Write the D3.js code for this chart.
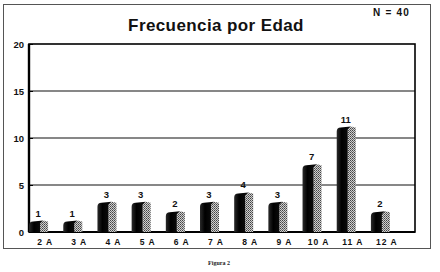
<!DOCTYPE html>
<html>
<head>
<meta charset="utf-8">
<script src="https://cdn.jsdelivr.net/npm/d3@7"></script>
<style>
  body { margin: 0; background: #fff; }
  svg { display: block; }
</style>
</head>
<body>
<svg id="plotSvg" width="440" height="272"></svg>
<script>
// data
var categories = ["2 A", "3 A", "4 A", "5 A", "6 A", "7 A", "8 A", "9 A", "10 A", "11 A", "12 A"];
var frecuencia = [1, 1, 3, 3, 2, 3, 4, 3, 7, 11, 2];
var yTicks = [0, 5, 10, 15, 20];
var titulo = "Frecuencia por Edad";
var nTotal = "N = 40";
var pie = "Figura 2";

var svg = d3.select("#plotSvg");
var font = "'Liberation Sans', Arial, sans-serif";

var plot = { left: 29, right: 415, top: 44, bottom: 232 };

// outer frame
svg.append("rect")
    .attr("x", 3.5).attr("y", 4.5)
    .attr("width", 427).attr("height", 244)
    .attr("fill", "none").attr("stroke", "#555").attr("stroke-width", 1);

var x = d3.scaleBand()
    .domain(categories)
    .range([28, 404]);

var y = d3.scaleLinear()
    .domain([0, 20])
    .range([plot.bottom, plot.top]);

// patterns for the shaded side of the bars
var defs = svg.append("defs");
var pat = defs.append("pattern")
    .attr("id", "dots")
    .attr("width", 2).attr("height", 2)
    .attr("patternUnits", "userSpaceOnUse");
pat.append("rect").attr("width", 2).attr("height", 2).attr("fill", "#cfcfcf");
pat.append("rect").attr("width", 1).attr("height", 1).attr("fill", "#444");
pat.append("rect").attr("x", 1).attr("y", 1).attr("width", 1).attr("height", 1).attr("fill", "#6a6a6a");

var grad = defs.append("linearGradient").attr("id", "front");
grad.append("stop").attr("offset", "0%").attr("stop-color", "#2a2a2a");
grad.append("stop").attr("offset", "35%").attr("stop-color", "#000");
grad.append("stop").attr("offset", "100%").attr("stop-color", "#111");

// gridlines
svg.append("g")
    .selectAll("line")
    .data(yTicks.slice(1, -1))
    .enter().append("line")
    .attr("x1", plot.left).attr("x2", plot.right)
    .attr("y1", function (d) { return y(d); })
    .attr("y2", function (d) { return y(d); })
    .attr("stroke", "#111").attr("stroke-width", 1.2);

// plot box
svg.append("rect")
    .attr("x", plot.left).attr("y", plot.top)
    .attr("width", plot.right - plot.left).attr("height", plot.bottom - plot.top)
    .attr("fill", "none").attr("stroke", "#000").attr("stroke-width", 1.6);
svg.append("line")
    .attr("x1", plot.left).attr("x2", plot.left)
    .attr("y1", plot.top).attr("y2", plot.bottom)
    .attr("stroke", "#000").attr("stroke-width", 2.4);
svg.append("line")
    .attr("x1", plot.left).attr("x2", plot.right)
    .attr("y1", plot.bottom).attr("y2", plot.bottom)
    .attr("stroke", "#000").attr("stroke-width", 2);

// y axis labels
var yAxis = d3.axisLeft(y).tickValues(yTicks).tickSize(4).tickPadding(4);
var ya = svg.append("g")
    .attr("transform", "translate(" + (plot.left + 4) + ",0)")
    .call(yAxis);
ya.select(".domain").remove();
ya.selectAll("line").attr("stroke", "#000");
ya.selectAll("text")
    .attr("x", -9)
    .attr("font-family", font).attr("font-weight", "bold")
    .attr("font-size", 9.5).attr("fill", "#111");

// bars
var frontW = 11, sideW = 8, depth = 3;
var bars = svg.append("g")
    .selectAll("g")
    .data(frecuencia)
    .enter().append("g");

function cx(i) { return x(categories[i]) + x.bandwidth() / 2; }

bars.append("path")
    .attr("d", function (d, i) {
        var x0 = cx(i) - 16 + frontW, top = y(d) - depth + 1;
        return "M" + x0 + "," + plot.bottom + "L" + x0 + "," + (top + depth) +
            "L" + (x0 + 3) + "," + top + "L" + (x0 + sideW) + "," + (top + 1) +
            "L" + (x0 + sideW) + "," + plot.bottom + "Z";
    })
    .attr("fill", "url(#dots)");

bars.append("path")
    .attr("d", function (d, i) {
        var x0 = cx(i) - 16, top = y(d) + 1;
        return "M" + x0 + "," + plot.bottom + "L" + x0 + "," + (top + 2) +
            "Q" + x0 + "," + (top - depth + 1) + " " + (x0 + 4) + "," + (top - depth + 1) +
            "L" + (x0 + frontW + 3) + "," + (top - depth) +
            "L" + (x0 + frontW) + "," + top +
            "L" + (x0 + frontW) + "," + plot.bottom + "Z";
    })
    .attr("fill", "url(#front)");

bars.append("text")
    .attr("x", function (d, i) { return cx(i) - 7; })
    .attr("y", function (d) { return y(d) - 6; })
    .attr("text-anchor", "middle")
    .attr("font-family", font).attr("font-weight", "bold")
    .attr("font-size", 9.5).attr("fill", "#111")
    .text(function (d) { return d; });

// x labels
svg.append("g")
    .selectAll("text")
    .data(categories)
    .enter().append("text")
    .attr("x", function (d) { return x(d) + x.bandwidth() / 2; })
    .attr("y", 245)
    .attr("text-anchor", "middle")
    .attr("font-family", font).attr("font-weight", "bold")
    .attr("font-size", 8.5).attr("fill", "#111")
    .attr("letter-spacing", 1)
    .text(function (d) { return d; });

// title, N, figure caption
svg.append("text")
    .attr("x", 216).attr("y", 31)
    .attr("text-anchor", "middle")
    .attr("font-family", font).attr("font-size", 17)
    .attr("font-weight", "bold")
    .attr("letter-spacing", 0.4).attr("fill", "#111")
    .text(titulo);

svg.append("text")
    .attr("x", 410).attr("y", 16)
    .attr("text-anchor", "end")
    .attr("font-family", font).attr("font-weight", "bold")
    .attr("font-size", 10).attr("letter-spacing", 1.2).attr("fill", "#111")
    .text(nTotal);

svg.append("text")
    .attr("x", 219).attr("y", 265)
    .attr("text-anchor", "middle")
    .attr("font-family", "'Liberation Serif', serif").attr("font-weight", "bold")
    .attr("font-size", 6).attr("fill", "#222")
    .text(pie);
</script>
</body>
</html>
